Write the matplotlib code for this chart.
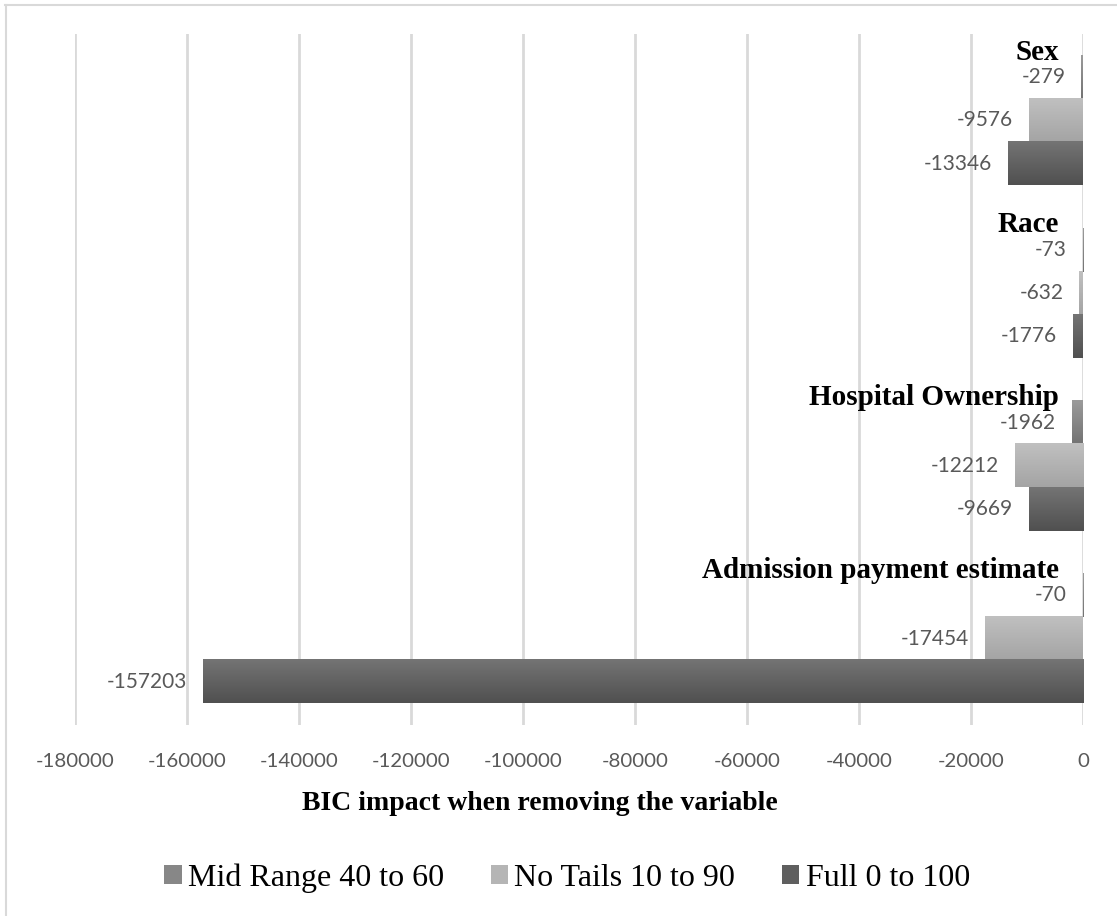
import matplotlib
matplotlib.use("Agg")
import matplotlib.pyplot as plt
import matplotlib.colors as mcolors
from matplotlib.lines import Line2D
from matplotlib.patches import Rectangle
import numpy as np

# Variables removed from the model (top to bottom)
variables = ["Sex", "Race", "Hospital Ownership", "Admission payment estimate"]

# BIC impact per sample window
series_names = ["Mid Range 40 to 60", "No Tails 10 to 90", "Full 0 to 100"]
mid_range = [-279, -73, -1962, -70]
no_tails = [-9576, -632, -12212, -17454]
full_range = [-13346, -1776, -9669, -157203]

x_ticks = [-180000, -160000, -140000, -120000, -100000, -80000,
           -60000, -40000, -20000, 0]

# (top colour, bottom colour) gradient for each series
gradients = [("#9b9b9b", "#737373"),
             ("#c0c0c0", "#a4a4a4"),
             ("#747474", "#505050")]
legend_colors = ["#878787", "#b5b5b5", "#5f5f5f"]

serif = ["Liberation Serif", "DejaVu Serif"]
sans = ["Lato", "DejaVu Sans"]
label_gray = "#595959"

W, H = 1117, 916
fig = plt.figure(figsize=(W / 100, H / 100), dpi=100)
fig.patch.set_facecolor("white")

# chart frame (top and left edges)
fig.add_artist(Line2D([5.5 / W, 5.5 / W], [0, 1 - 5 / H], color="#d9d9d9", lw=1.5))
fig.add_artist(Line2D([5 / W, 1], [1 - 5 / H, 1 - 5 / H], color="#d9d9d9", lw=1.5))

left, right, top, bottom = 75, 1083, 34, 725
ax = fig.add_axes([left / W, 1 - bottom / H, (right - left) / W, (bottom - top) / H])

bar_h = 0.25
offsets = [-0.25, 0.0, 0.25]
all_series = [mid_range, no_tails, full_range]
centers = np.arange(len(variables))

for k, (vals, off) in enumerate(zip(all_series, offsets)):
    bars = ax.barh(centers + off, vals, height=bar_h, color="none",
                   edgecolor="none", zorder=2)
    cmap = mcolors.LinearSegmentedColormap.from_list("g", list(gradients[k]))
    grad = np.linspace(0, 1, 64).reshape(-1, 1)
    for b, v in zip(bars, vals):
        x0, y0 = b.get_x(), b.get_y()
        w, h = b.get_width(), b.get_height()
        ax.imshow(grad, cmap=cmap, aspect="auto", origin="upper",
                  extent=(min(x0, x0 + w), max(x0, x0 + w), y0 + h, y0),
                  zorder=2, interpolation="bilinear")
        ax.annotate(f"{v}", xy=(v, y0 + h / 2), xytext=(-16, 0),
                    textcoords="offset pixels", ha="right", va="center",
                    fontsize=15, family=sans, color=label_gray, zorder=3)

# variable names above each group
for c, name in zip(centers, variables):
    ax.annotate(name, xy=(0, c - 0.375), xytext=(-24, -4),
                textcoords="offset pixels", ha="right", va="baseline",
                fontsize=21, family=serif, fontweight="bold", color="black",
                zorder=4)

ax.set_xlim(-180000, 0)
ax.set_ylim(3.5, -0.5)
ax.set_xticks(x_ticks)
ax.set_xticklabels([str(t) for t in x_ticks], family=sans, fontsize=14.7,
                   color=label_gray)
ax.set_yticks([])
ax.tick_params(axis="x", length=0, pad=20)
ax.grid(axis="x", color="#d9d9d9", lw=2, zorder=0)
ax.set_axisbelow(True)
for s in ax.spines.values():
    s.set_visible(False)

fig.text(540 / W, 1 - 810 / H,
         "BIC impact when removing the variable", ha="center", va="baseline",
         fontsize=20, family=serif, fontweight="bold", color="black")

# legend
handles = [Rectangle((0, 0), 1, 1, facecolor=c, edgecolor="none")
           for c in legend_colors]
fig.legend(handles, series_names, loc="center",
           bbox_to_anchor=(567 / W, 1 - 878 / H), ncol=3,
           frameon=False, prop={"family": serif, "size": 23},
           handlelength=0.55, handleheight=0.55, handletextpad=0.2,
           columnspacing=1.45, borderpad=0, borderaxespad=0)

fig.savefig("out.png", dpi=100, facecolor="white")
